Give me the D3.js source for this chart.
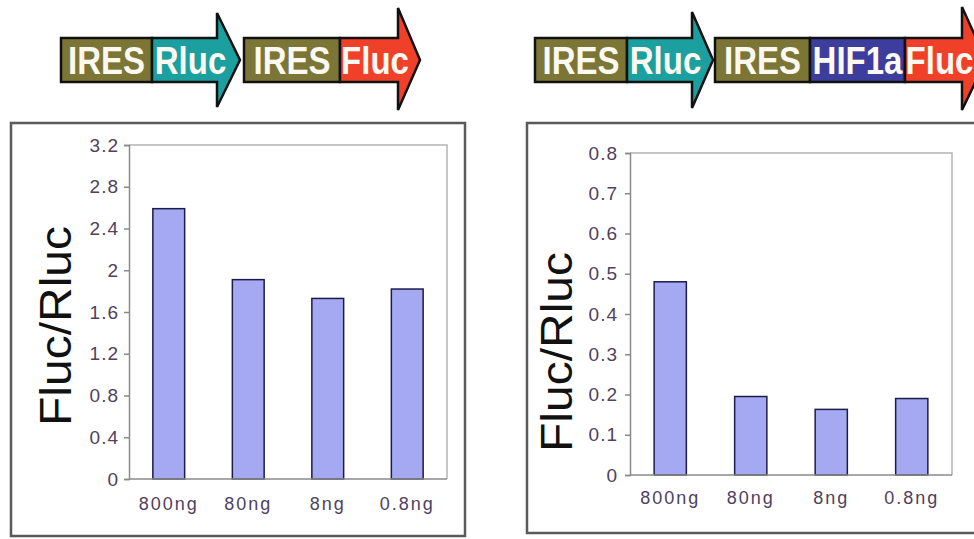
<!DOCTYPE html>
<html>
<head>
<meta charset="UTF-8">
<title>Fluc/Rluc ratio, IRES constructs</title>
<script src="https://d3js.org/d3.v7.min.js"></script>
<style>
  body { margin: 0; background: #fff; }
  svg { display: block; }
  text { font-family: "Liberation Sans", Arial, sans-serif; }
</style>
</head>
<body>
<div id="chart"></div>
<script>
// data
var doses = ["800ng", "80ng", "8ng", "0.8ng"];
var ratioControl = [2.59, 1.91, 1.73, 1.82];
var ratioHif = [0.48, 0.195, 0.163, 0.19];
var ticksControl = [0, 0.4, 0.8, 1.2, 1.6, 2, 2.4, 2.8, 3.2];
var ticksHif = [0, 0.1, 0.2, 0.3, 0.4, 0.5, 0.6, 0.7, 0.8];
var constructControl = ["IRES", "Rluc", "IRES", "Fluc"];
var constructHif = ["IRES", "Rluc", "IRES", "HIF1a", "Fluc"];
var yTitle = "Fluc/Rluc";

var width = 974, height = 539;
var partColor = {IRES: "#7b7636", Rluc: "#1b9f9f", Fluc: "#f1402a", HIF1a: "#3d3d9e"};

var svg = d3.select("#chart").append("svg")
    .attr("width", width)
    .attr("height", height);

// ---- construct arrows at the top ----
function drawArrow(labels, xs, tip, headTop, headBot) {
  var bodyTop = 38, bodyBot = 82, mid = (bodyTop + bodyBot) / 2;
  var g = svg.append("g");
  labels.forEach(function(lab, i) {
    var x0 = xs[i], x1 = xs[i + 1];
    var pts;
    if (i === labels.length - 1) {
      pts = [[x0, bodyTop], [x1, bodyTop], [x1, headTop], [tip, mid],
             [x1, headBot], [x1, bodyBot], [x0, bodyBot]];
    } else {
      pts = [[x0, bodyTop], [x1, bodyTop], [x1, bodyBot], [x0, bodyBot]];
    }
    g.append("polygon")
      .attr("points", pts.map(function(p) { return p.join(","); }).join(" "))
      .attr("fill", partColor[lab])
      .attr("stroke", "#111")
      .attr("stroke-width", 2.5)
      .attr("stroke-linejoin", "miter");
    var cx = (i === labels.length - 1) ? (x0 + x1) / 2 + 6 : (x0 + x1) / 2;
    g.append("text")
      .attr("transform", "translate(" + cx + "," + (mid + 14) + ") scale(1,1.18)")
      .attr("text-anchor", "middle")
      .attr("font-size", 33)
      .attr("font-weight", "bold")
      .attr("fill", "#fbf9f0")
      .text(lab);
  });
}

drawArrow(constructControl.slice(0, 2), [61, 152, 217], 240, 13, 107);
drawArrow(constructControl.slice(2), [244, 340, 398], 420, 8, 110);
drawArrow(constructHif.slice(0, 2), [535, 627, 692], 713, 12, 108);
drawArrow(constructHif.slice(2), [715, 810, 905, 962], 986, 7, 110);

// ---- bar panels ----
function drawPanel(opt) {
  var g = svg.append("g");

  // outer frame
  g.append("rect")
    .attr("x", opt.box[0]).attr("y", opt.box[1])
    .attr("width", opt.box[2] - opt.box[0])
    .attr("height", opt.box[3] - opt.box[1])
    .attr("fill", "none")
    .attr("stroke", "#5a5a5a")
    .attr("stroke-width", 2.5);

  var x = d3.scaleBand()
    .domain(doses)
    .range([opt.left, opt.right])
    .paddingInner(0.6)
    .paddingOuter(0.3);

  var y = d3.scaleLinear()
    .domain([0, opt.ticks[opt.ticks.length - 1]])
    .range([opt.bottom, opt.top]);

  // plot area border (top + right)
  g.append("path")
    .attr("d", "M" + opt.left + "," + opt.top + "H" + opt.right + "V" + opt.bottom)
    .attr("fill", "none")
    .attr("stroke", "#b4b4b4")
    .attr("stroke-width", 1.5);

  // bars
  g.selectAll("rect.bar")
    .data(opt.values)
    .enter()
    .append("rect")
    .attr("class", "bar")
    .attr("x", function(d, i) { return x(doses[i]); })
    .attr("y", function(d) { return y(d); })
    .attr("width", x.bandwidth())
    .attr("height", function(d) { return y(0) - y(d); })
    .attr("fill", "#a5a9f1")
    .attr("stroke", "#1c1c4c")
    .attr("stroke-width", 1.5);

  // y axis
  var yAxis = d3.axisLeft(y)
    .tickValues(opt.ticks)
    .tickSize(5)
    .tickPadding(opt.tickPad)
    .tickFormat(function(d) { return String(d); });
  var ya = g.append("g")
    .attr("transform", "translate(" + opt.left + ",0)")
    .call(yAxis);
  ya.select(".domain").attr("stroke", "#8a8a8a").attr("stroke-width", 1.5);
  ya.selectAll(".tick line").attr("stroke", "#8a8a8a").attr("stroke-width", 1.5);
  ya.selectAll(".tick text")
    .attr("font-size", 19)
    .attr("letter-spacing", "1px")
    .attr("fill", "#4f4160")
    .attr("font-family", "Liberation Sans, Arial, sans-serif");

  // x axis
  var xAxis = d3.axisBottom(x).tickSize(0).tickPadding(opt.catPad);
  var xa = g.append("g")
    .attr("transform", "translate(0," + opt.bottom + ")")
    .call(xAxis);
  xa.select(".domain")
    .attr("d", "M" + opt.left + ",0H" + opt.right)
    .attr("stroke", "#8a8a8a").attr("stroke-width", 1.5);
  xa.selectAll(".tick text")
    .attr("font-size", 18)
    .attr("letter-spacing", "2px")
    .attr("fill", "#4f4160")
    .attr("font-family", "Liberation Sans, Arial, sans-serif");

  // y title
  g.append("text")
    .attr("transform", "translate(" + opt.titleX + "," + opt.titleY + ") rotate(-90)")
    .attr("text-anchor", "middle")
    .attr("dy", "0.35em")
    .attr("font-size", 44)
    .attr("textLength", 200)
    .attr("lengthAdjust", "spacingAndGlyphs")
    .attr("fill", "#111")
    .text(yTitle);
}

drawPanel({
  values: ratioControl, ticks: ticksControl,
  box: [11, 123, 465, 536],
  left: 129, right: 447, top: 145, bottom: 479,
  tickPad: 5, catPad: 18,
  titleX: 56, titleY: 326
});

drawPanel({
  values: ratioHif, ticks: ticksHif,
  box: [527, 123, 990, 533],
  left: 630, right: 952, top: 153, bottom: 475,
  tickPad: 7, catPad: 16,
  titleX: 557, titleY: 352
});
</script>
</body>
</html>
